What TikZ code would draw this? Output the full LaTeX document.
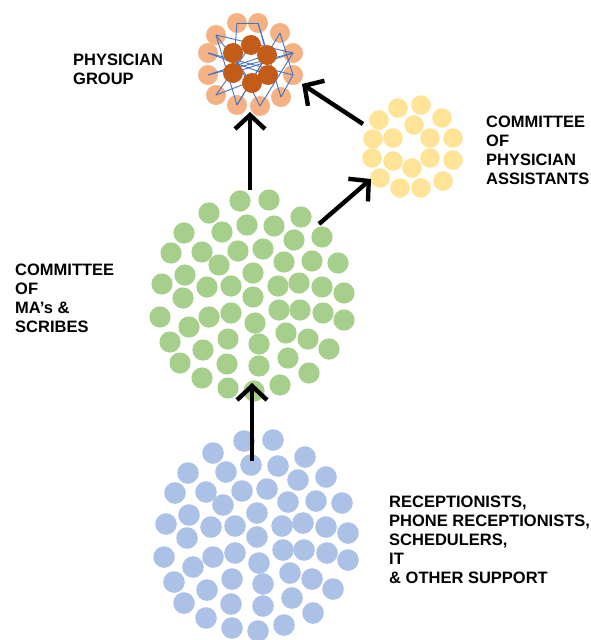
\documentclass[tikz,border=0pt]{standalone}
\usepackage{fontspec}
\setmainfont{Liberation Sans}
\usetikzlibrary{arrows.meta}

\definecolor{staffblue}{RGB}{172,193,230}
\definecolor{magreen}{RGB}{166,207,139}
\definecolor{payellow}{RGB}{255,228,152}
\definecolor{doclight}{RGB}{244,177,131}
\definecolor{docdark}{RGB}{194,92,24}
\definecolor{linkblue}{RGB}{68,114,196}

\tikzset{
  bdot/.style={fill=staffblue},
  gdot/.style={fill=magreen},
  ydot/.style={fill=payellow},
  odot/.style={fill=doclight},
  ddot/.style={fill=docdark},
  link/.style={draw=linkblue, line width=0.9pt},
  flow/.style={draw=black, line width=4.4pt,
    -{Straight Barb[length=14pt,width=30pt]}},
  lbl/.style={font=\bfseries\fontsize{16.5}{19}\selectfont, align=left,
    anchor=north west, inner sep=0pt, text=black}
}

\begin{document}
\begin{tikzpicture}[x=1pt,y=-1pt]
\path[use as bounding box, fill=white] (0,0) rectangle (591,640);

% staff pool (bottom) and MA/scribe committee share the same dot pattern
\def\pattern{244/441, 273/440, 213/453, 305/457, 188/473, 226/472, 251/465,
  278/466, 298/480, 326/477, 175/493, 206/492, 242/491, 267/489, 288/502,
  316/501, 342/503, 223/505, 257/513, 189/515, 166/524, 211/527, 235/526,
  282/526, 303/523, 326/527, 348/533, 187/538, 257/537, 164/557, 213/557,
  235/553, 283/550, 304/550, 327/553, 348/560, 193/567, 259/563, 174/582,
  207/590, 232/579, 263/584, 290/573, 312/579, 333/589, 184/603, 231/604,
  263/606, 292/598, 206/618, 232/628, 258/631, 284/625, 313/613}

\foreach \px/\py in \pattern
  \fill[bdot] (\px,\py) circle[radius=10.8pt];

\begin{scope}[shift={(-4,-240)}]
  \foreach \px/\py in \pattern
    \fill[gdot] (\px,\py) circle[radius=10.6pt];
\end{scope}

% physician assistants
\foreach \px/\py in {398/108, 421/105, 379/120, 442/118, 414/125,
  373/139, 393/138, 430/138, 453/138, 372/158, 393/161, 430/158, 453/160,
  412/168, 380/178, 400/188, 421/188, 443/181}
  \fill[ydot] (\px,\py) circle[radius=9.8pt];

% physician group
\foreach \name/\px/\py in {L1/237/23, L2/258/23, L3/216/35, L4/280/33,
  L5/208/53, L6/293/53, L7/208/75, L8/293/75, L9/216/95, L10/281/97,
  L11/237/105, L12/260/106}{
  \coordinate (\name) at (\px,\py);
  \fill[odot] (\name) circle[radius=10pt];
}
\foreach \name/\px/\py in {D1/251/45, D2/233/53, D3/267/55, D4/233/73,
  D5/268/75, D6/252/83}
  \coordinate (\name) at (\px,\py);

\foreach \a/\b in {L1/L2, L2/D3, L4/L8, L5/L8, L7/L6, L3/L11, L11/L4,
  L10/L8, L9/D5, L7/D3, L3/D6, L12/D2, L5/D5, L9/D1, L12/L6, L1/D4,
  L2/L10, L6/D4, L11/D3, L3/L6}
  \draw[link] (\a) -- (\b);

\foreach \name in {D1,D2,D3,D4,D5,D6}
  \fill[ddot] (\name) circle[radius=10pt];

% arrow end points
\coordinate (staffTop) at (252,461);
\coordinate (maBottom) at (252,383);
\coordinate (maTop) at (250,190);
\coordinate (docBottom) at (250,112);
\coordinate (maRight) at (319,224);
\coordinate (paLeft) at (371,179);
\coordinate (paTop) at (363,124);
\coordinate (docRight) at (302,84);

\draw[flow] (staffTop) -- (maBottom);
\draw[flow] (maTop) -- (docBottom);
\draw[flow] (maRight) -- (paLeft);
\draw[flow] (paTop) -- (docRight);

% labels
\node[lbl] (docLbl) at (73,54) {PHYSICIAN\\GROUP};
\node[lbl] (paLbl) at (486,116) {COMMITTEE\\OF\\PHYSICIAN\\ASSISTANTS};
\node[lbl] (maLbl) at (15,264) {COMMITTEE\\OF\\MA’s \&\\SCRIBES};
\node[lbl] (staffLbl) at (389,496) {RECEPTIONISTS,\\PHONE RECEPTIONISTS,\\SCHEDULERS,\\IT\\\& OTHER SUPPORT};
\end{tikzpicture}
\end{document}
